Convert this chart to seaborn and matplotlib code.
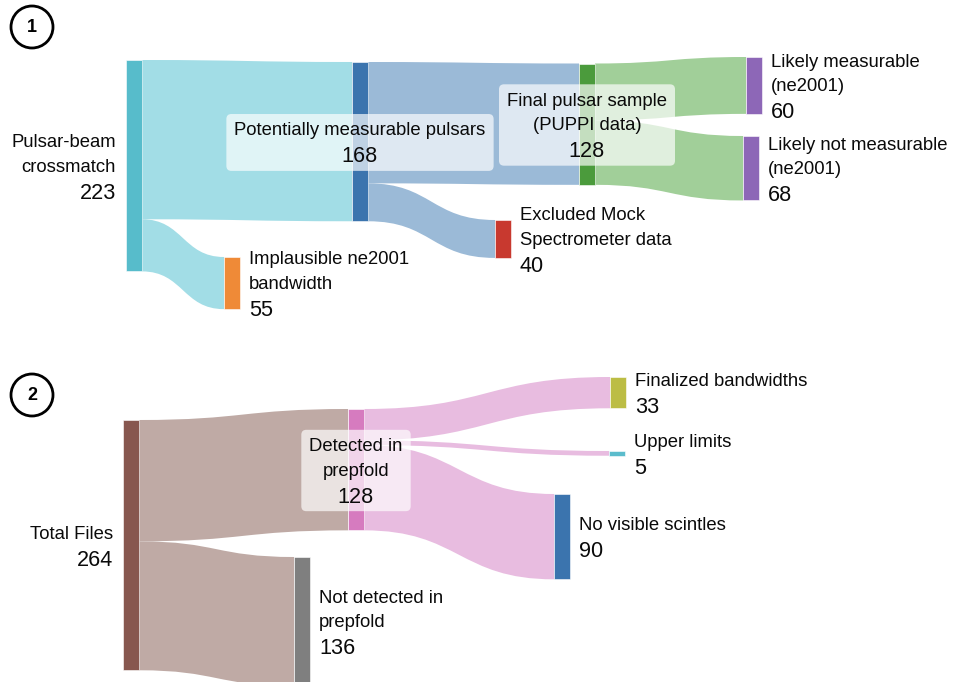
import numpy as np
import pandas as pd
import seaborn as sns
import matplotlib
matplotlib.use("Agg")
import matplotlib.pyplot as plt
from matplotlib.path import Path
from matplotlib.patches import PathPatch, FancyBboxPatch, Circle

# ---------------- data ----------------
p1_nodes = ["Pulsar-beam\ncrossmatch", "Implausible ne2001\nbandwidth",
            "Potentially measurable pulsars", "Excluded Mock\nSpectrometer data",
            "Final pulsar sample\n(PUPPI data)", "Likely measurable\n(ne2001)",
            "Likely not measurable\n(ne2001)"]
p1_source = [0, 0, 2, 2, 4, 4]
p1_target = [2, 1, 4, 3, 5, 6]
p1_value = [168, 55, 128, 40, 60, 68]

p2_nodes = ["Total Files", "Detected in\nprepfold", "Not detected in\nprepfold",
            "Finalized bandwidths", "Upper limits", "No visible scintles"]
p2_source = [0, 0, 1, 1, 1]
p2_target = [1, 2, 3, 4, 5]
p2_value = [128, 136, 33, 5, 90]

panel_tags = ["1", "2"]

# ---------------- layout / style ----------------
W, H = 954, 682
K = 0.948          # pixels per unit of flow
NODE_W = 16

p1_node_x = [126, 224, 352, 495, 579, 746, 743]
p1_node_y = [60, 257, 62, 220, 63.5, 57, 136]
p1_mode = ["left", "right", "box", "right", "box", "right", "right"]
p1_node_col = ["#57bccb", "#ef8a37", "#3b74ae", "#c8392f", "#4b9b3c", "#8d67b7", "#8d67b7"]
p1_link_col = {0: "#a2dde6", 2: "#9bbad7", 4: "#a1cf99"}

p2_node_x = [123, 348, 294, 610, 609, 554]
p2_node_y = [420, 409, 557, 377, 451, 494]
p2_mode = ["left", "box", "right", "right", "right", "right"]
p2_node_col = ["#87574f", "#d67bbf", "#7f7f7f", "#bcbd44", "#5bbccc", "#3b74ae"]
p2_link_col = {0: "#bfaaa5", 1: "#e8bce0"}

tag_pos = [(32, 27), (32, 395)]

sns.set_theme(style="white")
plt.rcParams["font.family"] = ["Liberation Sans", "DejaVu Sans"]

NAME_PT, NUM_PT = 13.3, 15.6
DPI = 100
name_px = NAME_PT * DPI / 72
num_px = NUM_PT * DPI / 72
NAME_CAP = 0.716 * name_px
NUM_CAP = 0.716 * num_px
TXT = "#0a0a0a"

fig = plt.figure(figsize=(W / DPI, H / DPI), dpi=DPI)
ax = fig.add_axes([0, 0, 1, 1])
ax.set_xlim(0, W)
ax.set_ylim(H, 0)
ax.axis("off")


def draw_sankey(names, src, tgt, val, nx, ny, mode, ncol, lcol):
    n = len(names)
    out_sum = np.zeros(n)
    in_sum = np.zeros(n)
    for s, t, v in zip(src, tgt, val):
        out_sum[s] += v
        in_sum[t] += v
    nval = np.maximum(out_sum, in_sum)

    # links
    s_off = np.zeros(n)
    t_off = np.zeros(n)
    for s, t, v in zip(src, tgt, val):
        h = v * K
        x0 = nx[s] + NODE_W
        x1 = nx[t]
        y0 = ny[s] + s_off[s]
        y1 = ny[t] + t_off[t]
        s_off[s] += h
        t_off[t] += h
        xm = (x0 + x1) / 2
        verts = [(x0, y0), (xm, y0), (xm, y1), (x1, y1),
                 (x1, y1 + h), (xm, y1 + h), (xm, y0 + h), (x0, y0 + h), (x0, y0)]
        codes = [Path.MOVETO, Path.CURVE4, Path.CURVE4, Path.CURVE4,
                 Path.LINETO, Path.CURVE4, Path.CURVE4, Path.CURVE4, Path.CLOSEPOLY]
        ax.add_patch(PathPatch(Path(verts, codes), facecolor=lcol[s],
                               edgecolor="none", zorder=1))

    # nodes
    heights = nval * K
    ax.bar(np.array(nx) + NODE_W / 2, heights, bottom=ny, width=NODE_W,
           color=ncol, edgecolor="white", linewidth=0.4, zorder=2)

    # labels
    fig.canvas.draw()
    renderer = fig.canvas.get_renderer()
    for i in range(n):
        lines = names[i].split("\n")
        cy = ny[i] + heights[i] / 2
        nl = len(lines)
        centers = [j * 24.5 for j in range(nl)] + [(nl - 1) * 24.5 + 26]
        mid = (centers[0] + centers[-1]) / 2
        centers = [c - mid + cy for c in centers]
        if mode[i] == "left":
            x, ha = nx[i] - 10, "right"
        elif mode[i] == "right":
            x, ha = nx[i] + NODE_W + 9, "left"
        else:
            x, ha = nx[i] + NODE_W / 2, "center"
        texts = []
        for j, ln in enumerate(lines):
            texts.append(ax.text(x, centers[j] + NAME_CAP / 2, ln, ha=ha, va="baseline",
                                 fontsize=NAME_PT, color=TXT, zorder=5))
        last_base = centers[-1] + NUM_CAP / 2
        texts.append(ax.text(x, last_base, f"{int(nval[i])}", ha=ha, va="baseline",
                             fontsize=NUM_PT, color=TXT, zorder=5))
        if mode[i] == "box":
            inv = ax.transData.inverted()
            xs = []
            for t in texts:
                bb = t.get_window_extent(renderer)
                p = inv.transform([[bb.x0, bb.y0], [bb.x1, bb.y1]])
                xs += [p[0, 0], p[1, 0]]
            left, right = min(xs) - 8, max(xs) + 8
            top = centers[0] - NAME_CAP / 2 - 8
            bottom = last_base + 8.5
            ax.add_patch(FancyBboxPatch((left, top), right - left, bottom - top,
                                        boxstyle="round,pad=0,rounding_size=5",
                                        facecolor="white", alpha=0.68,
                                        edgecolor="none", zorder=4))


draw_sankey(p1_nodes, p1_source, p1_target, p1_value, p1_node_x, p1_node_y,
            p1_mode, p1_node_col, p1_link_col)
draw_sankey(p2_nodes, p2_source, p2_target, p2_value, p2_node_x, p2_node_y,
            p2_mode, p2_node_col, p2_link_col)

for tag, (cx, cy) in zip(panel_tags, tag_pos):
    ax.add_patch(Circle((cx, cy), 21, facecolor="white", edgecolor="black",
                        linewidth=2.0, zorder=6))
    ax.text(cx, cy + 0.5, tag, ha="center", va="center", fontsize=13,
            fontweight="bold", color="black", zorder=7)

fig.savefig("out.png", dpi=DPI)
